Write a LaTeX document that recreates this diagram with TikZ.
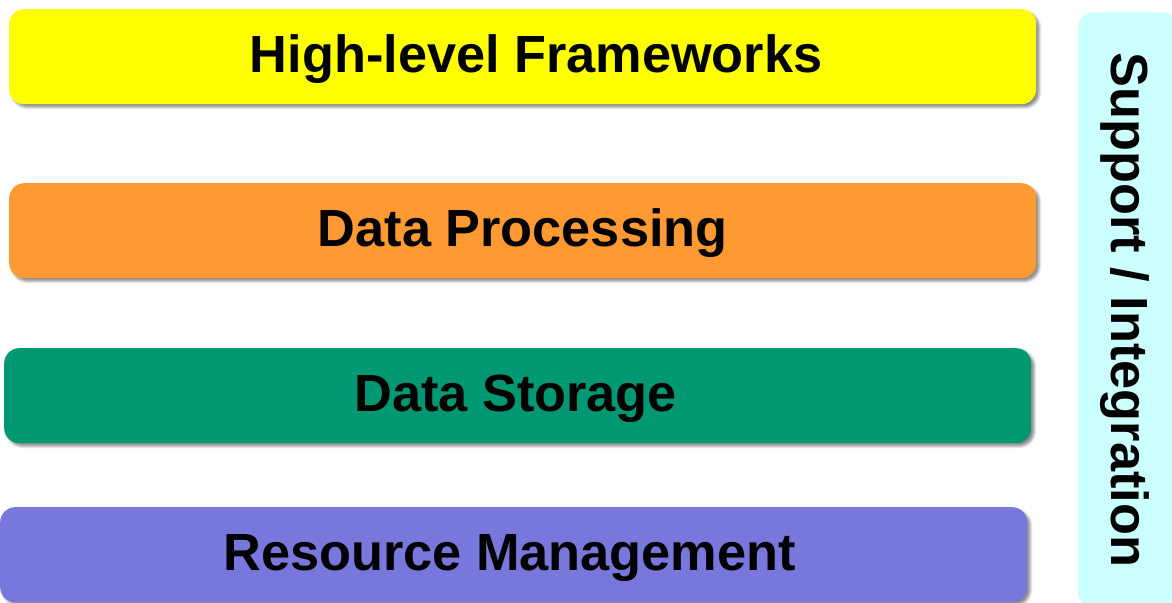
\documentclass[tikz,border=0pt]{standalone}
\usepackage{fontspec}
\setmainfont{Liberation Sans}
\usetikzlibrary{shadows.blur}
\definecolor{layeryellow}{RGB}{255,255,0}
\definecolor{layerorange}{RGB}{255,154,51}
\definecolor{layergreen}{RGB}{0,152,114}
\definecolor{layerpurple}{RGB}{120,120,220}
\definecolor{sidecyan}{RGB}{204,255,255}

\begin{document}
\begin{tikzpicture}[x=1bp, y=-1bp, % Pixel-Raster, y nach unten
    layer/.style={anchor=north west, rounded corners=15bp, inner sep=0pt,
        minimum width=1027bp, minimum height=95bp,
        text height=38bp, text depth=5.6bp,
        font=\fontsize{52.5}{60}\selectfont\bfseries,
        blur shadow={shadow xshift=3bp, shadow yshift=-3bp,
            shadow blur radius=2.5bp, shadow opacity=45}},
    side/.style={rounded corners=15bp, inner sep=0pt, fill=sidecyan,
        minimum width=595bp, minimum height=100bp,
        text height=38bp, text depth=5.6bp,
        font=\fontsize{52.5}{60}\selectfont\bfseries}]
    \useasboundingbox (0,0) rectangle (1172,603);
    % Schichten von oben nach unten (\o: Textversatz, doppelt)
    \foreach \n/\x/\y/\c/\o/\t in {frameworks/9/9/layeryellow/27/High-level Frameworks,
        processing/9/183/layerorange/0/Data Processing,
        storage/4/348/layergreen/-4/Data Storage,
        resource/0/507/layerpurple/-8/Resource Management} {
        \node[layer, fill=\c] (\n) at (\x,\y) {\hspace{\o bp}\t};
    }
    % Seitenleiste, Text gedreht
    \node[side, rotate=-90] (support) at (1128,310) {Support / Integration};
\end{tikzpicture}
\end{document}
